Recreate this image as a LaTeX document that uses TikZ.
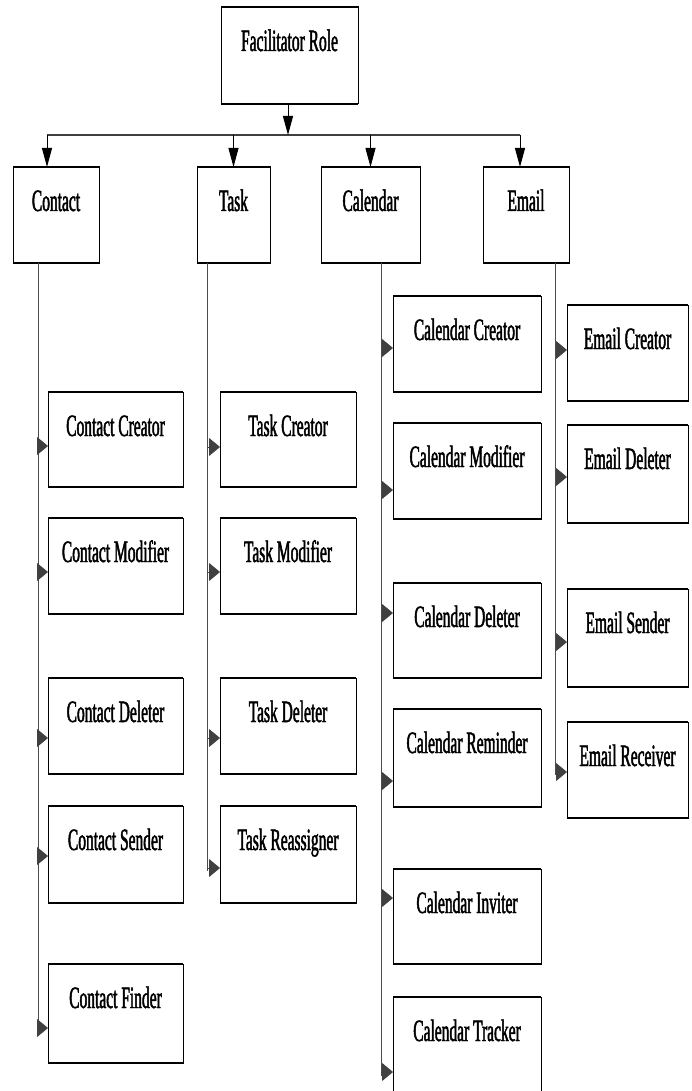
\documentclass[tikz,border=0pt]{standalone}
\usepackage{fontspec}
\newfontfamily\narrowserif{Liberation Serif}[FakeStretch=0.5,FakeBold=1.5]
\usetikzlibrary{arrows.meta}
\tikzset{
  box/.style={draw, rectangle, line width=1pt, inner sep=0pt, outer sep=0pt, anchor=north west,
    append after command={(\tikzlastnode.north west) edge[line width=2.4pt,-] (\tikzlastnode.north east)
                          (\tikzlastnode.south west) edge[line width=2.4pt,-] (\tikzlastnode.south east)}},
  lab/.style={anchor=base, yshift=-44pt, inner sep=0pt, font=\narrowserif\fontsize{31}{31}\selectfont},
  toparr/.style={-{Triangle[length=19pt,width=10pt]}, line width=1pt},
  sidearr/.style={-{Triangle[length=11pt,width=18pt]}, line width=0.9pt, draw=black!75, fill=black},
  trunk/.style={line width=0.9pt, black!70},
  barline/.style={line width=2.2pt, black!75},
}
\newcommand\mybox[6]{\node[box, minimum width=#4pt, minimum height=#5pt, label={[lab]north:#6}] (#1) at (#2,#3) {};}
\begin{document}
\begin{tikzpicture}[x=1pt,y=-1pt]
\useasboundingbox (0,0) rectangle (691,1091);
\clip (0,0) rectangle (691,1091);
\fill[white] (0,0) rectangle (691,1091);
% top
\mybox{F}{221}{7}{137}{97}{Facilitator Role}
\mybox{contact}{13}{167}{86}{96}{Contact}
\mybox{task}{197}{167}{73}{96}{Task}
\mybox{calendar}{321}{167}{99}{96}{Calendar}
\mybox{email}{483}{167}{86}{96}{Email}
% contact column
\mybox{cc}{48}{392}{135}{95}{Contact Creator}
\mybox{cm}{48}{518}{135}{96}{Contact Modifier}
\mybox{cd}{48}{678}{135}{96}{Contact Deleter}
\mybox{cs}{48}{806}{135}{97}{Contact Sender}
\mybox{cf}{48}{964}{135}{99}{Contact Finder}
% task column
\mybox{tc}{220}{392}{136}{95}{Task Creator}
\mybox{tm}{220}{518}{136}{96}{Task Modifier}
\mybox{td}{220}{678}{136}{96}{Task Deleter}
\mybox{tr}{220}{806}{136}{97}{Task Reassigner}
% calendar column
\mybox{kc}{393}{296}{148}{96}{Calendar Creator}
\mybox{km}{393}{423}{148}{96}{Calendar Modifier}
\mybox{kd}{393}{583}{148}{95}{Calendar Deleter}
\mybox{kr}{393}{709}{148}{98}{Calendar Reminder}
\mybox{ki}{393}{869}{148}{95}{Calendar Inviter}
\mybox{kt}{393}{997}{148}{110}{Calendar Tracker}
% email column
\mybox{ec}{567}{305}{121}{96}{Email Creator}
\mybox{ed}{567}{425}{121}{98}{Email Deleter}
\mybox{es}{567}{589}{121}{98}{Email Sender}
\mybox{er}{567}{722}{121}{96}{Email Receiver}
% top connectors
\coordinate (bar) at (288,135);
\coordinate (bL) at (47,135);
\coordinate (bR) at (520,135);
\draw[barline] (bL) -- (bR);
\draw[toparr] (F.south -| bar) -- (bar);
\draw[toparr] (bL) -- (contact.north -| bL);
\draw[toparr] (task.north |- bar) -- (task.north);
\draw[toparr] (calendar.north |- bar) -- (calendar.north);
\draw[toparr] (bR) -- (email.north -| bR);
% trunks
\coordinate (ct) at (38,263);
\coordinate (tt) at (207,263);
\coordinate (kt0) at (381,263);
\coordinate (et) at (555,263);
\draw[trunk] (ct) -- (ct |- 0,1031);
\draw[trunk] (tt) -- (tt |- 0,871);
\draw[trunk] (kt0) -- (kt0 |- 0,1076);
\draw[trunk] (et) -- (et |- 0,775);
% contact arrows
\draw[sidearr] (ct |- 0,446) -- (cc.west |- 0,446);
\draw[sidearr] (ct |- 0,572) -- (cm.west |- 0,572);
\draw[sidearr] (ct |- 0,738) -- (cd.west |- 0,738);
\draw[sidearr] (ct |- 0,856) -- (cs.west |- 0,856);
\draw[sidearr] (ct |- 0,1028) -- (cf.west |- 0,1028);
% task arrows
\draw[sidearr] (tt |- 0,447) -- (tc.west |- 0,447);
\draw[sidearr] (tt |- 0,572) -- (tm.west |- 0,572);
\draw[sidearr] (tt |- 0,738) -- (td.west |- 0,738);
\draw[sidearr] (tt |- 0,868) -- (tr.west |- 0,868);
% calendar arrows
\draw[sidearr] (kt0 |- 0,348) -- (kc.west |- 0,348);
\draw[sidearr] (kt0 |- 0,490) -- (km.west |- 0,490);
\draw[sidearr] (kt0 |- 0,613) -- (kd.west |- 0,613);
\draw[sidearr] (kt0 |- 0,781) -- (kr.west |- 0,781);
\draw[sidearr] (kt0 |- 0,898) -- (ki.west |- 0,898);
\draw[sidearr] (kt0 |- 0,1072) -- (kt.west |- 0,1072);
% email arrows
\draw[sidearr] (et |- 0,350) -- (ec.west |- 0,350);
\draw[sidearr] (et |- 0,477) -- (ed.west |- 0,477);
\draw[sidearr] (et |- 0,642) -- (es.west |- 0,642);
\draw[sidearr] (et |- 0,772) -- (er.west |- 0,772);
\end{tikzpicture}
\end{document}
